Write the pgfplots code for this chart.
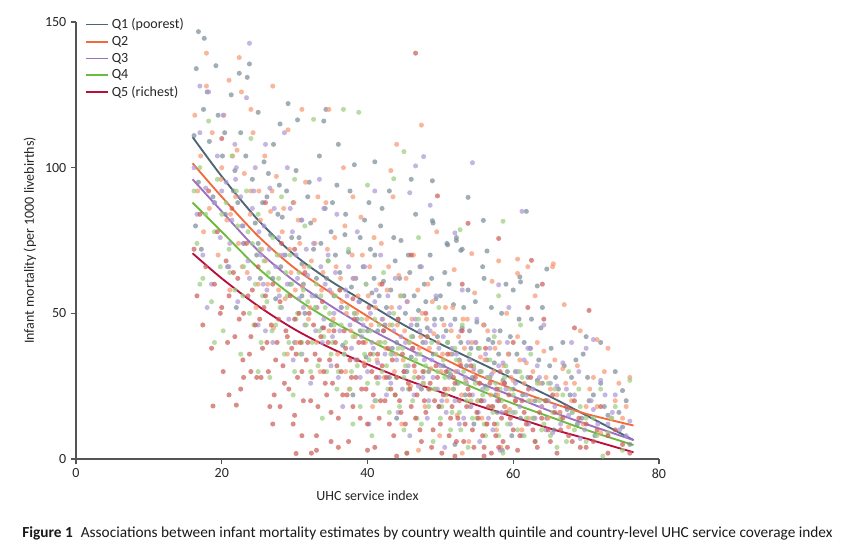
\documentclass[border=0pt]{standalone}
\usepackage{pgfplots}
\pgfplotsset{compat=1.18}
\usepackage{fontspec}
\setmainfont{Carlito}
\definecolor{q1l}{HTML}{4D6676}
\definecolor{q2l}{HTML}{F26A3B}
\definecolor{q3l}{HTML}{9C70C0}
\definecolor{q4l}{HTML}{6CBB3C}
\definecolor{q5l}{HTML}{B8103C}
\definecolor{q1p}{HTML}{7D8F9A}
\definecolor{q2p}{HTML}{F89A75}
\definecolor{q3p}{HTML}{AE98D6}
\definecolor{q4p}{HTML}{9CCF80}
\definecolor{q5p}{HTML}{CC5F5B}
\definecolor{axgray}{HTML}{555555}
\definecolor{txt}{HTML}{262626}
\begin{document}
\begin{tikzpicture}
\useasboundingbox (0,0) rectangle (633pt,410.25pt);
\begin{axis}[
  at={(57pt,66pt)}, anchor=south west,
  scale only axis, width=437.25pt, height=327.75pt,
  xmin=0, xmax=80, ymin=0, ymax=150,
  axis x line=bottom, axis y line=left,
  axis line style={-, draw=axgray, line width=0.8pt},
  tick style={draw=axgray, line width=0.8pt},
  tick align=outside, major tick length=3.75pt,
  xtick={0,20,40,60,80}, ytick={0,50,100,150},
  /pgf/number format/assume math mode=true,
  tick label style={font=\fontsize{10.5}{12}\selectfont, text=txt},
  label style={font=\fontsize{10.5}{12}\selectfont, text=txt},
  xlabel={UHC service index},
  ylabel={Infant mortality (per 1000 livebirths)},
  xlabel style={at={(axis description cs:0.5,-0.083)}, anchor=center},
  ylabel style={at={(axis description cs:-0.079,0.5)}, anchor=center},
  clip=false,
  legend style={at={(0.012,1.018)}, anchor=north west, draw=none, fill=none,
    font=\fontsize{10.5}{12}\selectfont, text=txt, row sep=0.2pt,
    inner sep=1pt},
  legend cell align=left,
  legend image code/.code={\draw[#1, line width=1.4pt, opacity=1] (0pt,0pt) -- (17pt,0pt);},
  scatter1/.style={only marks, mark=*, mark size=1.9pt, color=#1, mark options={draw opacity=0, fill=#1, fill opacity=0.72}, forget plot},
  fitline/.style={draw=#1, line width=1.4pt, smooth, no markers},
]
% Q1 scatter
\addplot[scatter1=q1p] coordinates {
(16.5,134)(16.8,146.7)(17.6,144.4)(16.2,111)(16.8,95)(17.5,120)(18,126)(18.3,109)(16.4,80)(17.2,72)(18.8,90)(19.2,135)(19.5,118)(20.1,104)(20.5,84)(20.8,66)(21.3,125)(21.8,99)(22.2,88)(22.6,112)(23,74)(23.5,131)(23.8,135.6)(22.4,132.4)(24.2,96)(24.6,81)(25,119)(25.3,62)(25.8,102)(26.2,90)(26.7,77)(27.1,108)(27.4,55)(27.9,94)(28.3,83)(28.7,70)(29.1,122)(29.4,60)(29.8,88)(30.2,99)(30.6,76)(31,67)(31.4,50)(31.8,90)(32.2,81)(32.6,72)(33,62)(33.4,104)(33.8,45)(34.2,86)(34.6,68)(35,78)(35.4,56)(35.8,94)(36.2,64)(36.6,39)(37,84)(37.4,71)(37.8,59)(38.2,101)(38.6,48)(39,76)(39.4,66)(39.8,35)(40.2,88)(40.6,57)(41,70)(41.4,44)(41.8,80)(42.2,61)(42.6,52)(43,92)(43.4,38)(43.8,68)(44.2,48)(44.6,75)(45,56)(45.4,30)(45.8,64)(46.2,42)(46.6,84)(47,51)(47.4,24)(47.8,60)(48.2,45)(48.6,70)(49,36)(49.4,55)(49.8,18)(50.2,48)(50.6,64)(51,40)(51.4,29)(51.8,53)(52.2,75)(52.6,34)(53,45)(53.4,22)(53.8,58)(54.2,38)(54.6,12)(55,47)(55.4,30)(55.8,66)(56.2,25)(56.6,41)(57,52)(57.4,33)(57.8,16)(58.2,44)(58.6,27)(59,60)(59.4,36)(59.8,8)(60.3,30)(60.8,48)(61.3,22)(61.8,85)(62.3,38)(62.8,14)(63.3,27)(63.8,45)(64.4,20)(65,32)(65.6,10)(66.2,24)(66.8,40)(67.4,17)(68,28)(68.8,12)(69.6,36)(70.4,20)(71.2,8)(72,26)(73,15)(74,30)(75,11)(76,5)(58.5,3)(52,5)(44,14)(38,22)(30,40)(22,52)(34,116)(41,102)(46,96)(36,108)(28,115)(19,88)(49,81)(51,73.5)(53,72)(56,62)(60,58)(64,52)(75,23.5)(72,40)(70,42)(34.3,120)(30.4,116.4)
(20.4,112)(21.6,92)(22.9,80)(23.3,104)(24.8,70)(25.6,88)(26.4,98)(27.7,84)(28.1,66)(28.9,92)(29.6,76)(30.9,82)(31.2,60)(32,95)(32.9,56)(33.6,74)(34.4,62)(35.2,88)(35.6,70)(36.4,52)(36.9,77)(37.6,92)(38.4,62)(38.9,54)(39.6,82)(40,44)(40.4,72)(40.9,62)(41.6,56)(42,86)(42.4,46)(43.2,58)(43.6,76)(44,40)(44.4,62)(45.2,50)(45.6,70)(46,35)(46.4,56)(46.8,46)(47.2,66)(47.6,40)(48,54)(48.4,30)(48.8,62)(49.2,48)(49.6,42)(50,56)(50.4,32)(50.8,44)(51.2,60)(51.6,36)(52,48)(52.4,26)(52.8,40)(53.2,52)(53.6,32)(54,44)(54.4,28)(54.8,54)(55.2,38)(55.6,20)(56,46)(56.4,34)(56.8,28)(57.2,40)(57.6,22)(58,36)(58.4,50)(58.8,18)(59.2,30)(59.6,42)(60,24)(60.5,36)(61,14)(61.5,40)(62,28)(62.5,48)(63,20)(63.5,34)(64,26)(64.6,14)(65.2,38)(65.8,28)(66.4,16)(67,32)(67.8,22)(68.6,34)(69.4,14)(70.2,28)(71,22)(72.5,18)(74.5,16)(75.5,20)(43,28)(39,44)(35,46)(31,56)(27,62)(25,74)
(48.9,95.5)(53.8,89.8)(48.9,81.8)(55.9,81.9)(52.2,76)(50.9,74)(52.8,71.6)(56.4,71.4)(64.6,65.2)(60.9,62.5)(63.3,59.4)(61,60.8)
};
% Q2 scatter
\addplot[scatter1=q2p] coordinates {
(16.3,118)(16.7,92)(17.1,104)(17.5,78)(17.9,128)(18.3,86)(18.7,112)(17.9,139.3)(19.5,70)(19.9,96)(20.3,118)(20.7,82)(21.1,58)(21.5,104)(21.9,90)(22.3,74)(22.7,126)(23.1,98)(23.5,64)(23.9,84)(24.3,112)(24.7,52)(25.1,92)(25.5,72)(25.9,104)(26.3,60)(26.7,85)(27.1,45)(27.5,97)(27.9,70)(28.3,78)(28.7,55)(29.1,113)(29.5,64)(29.9,88)(30.3,40)(30.7,74)(31.1,59)(31.5,95)(31.9,48)(32.3,68)(32.7,82)(33.1,52)(33.5,30)(33.9,64)(34.3,88)(34.7,44)(35.1,57)(35.5,76)(35.9,36)(36.3,62)(36.7,100)(37.1,50)(37.5,24)(37.9,70)(38.3,42)(38.7,56)(39.1,83)(39.5,33)(39.9,48)(40.3,66)(40.7,18)(41.1,52)(41.5,40)(41.9,74)(42.3,28)(42.7,58)(43.1,46)(43.5,90)(43.9,36)(44.3,63)(44.7,12)(45.1,44)(45.5,54)(45.9,25)(46.3,70)(47.4,114.6)(47.1,38)(47.5,50)(47.9,18)(48.3,60)(48.7,31)(49.1,43)(49.5,78)(49.9,8)(50.3,36)(50.7,52)(51.1,24)(51.5,44)(51.9,65)(52.3,15)(52.7,33)(53.1,48)(53.5,27)(53.9,6)(54.3,40)(54.7,57)(55.1,20)(55.5,35)(55.9,46)(56.3,12)(56.7,28)(57.1,61)(57.5,38)(57.9,22)(58.3,4)(58.7,32)(59.1,50)(59.5,17)(60,27)(60.6,42)(61.2,10)(61.8,33)(62.4,20)(63,56)(63.6,26)(64.2,37)(64.8,14)(65.4,66)(66,22)(66.8,31)(67.6,11)(68.4,26)(69.2,44)(70,18)(71,28)(72,9)(73,38)(74,20)(75,14)(76,28)(71.5,41)(67,53)(62,66)(58,68)(31,120)(27,128)(24,120)(21,130)(44,108)(38,90)(53,2)(47,3)(22.4,137.8)(34.7,120)
(20,100)(21.2,84)(22.1,106)(22.8,66)(24,92)(25.3,82)(26,68)(26.9,92)(27.8,58)(28.5,86)(29.3,72)(30.1,58)(30.5,82)(31.3,66)(32.1,52)(32.8,74)(33.2,90)(33.7,58)(34.5,72)(35.3,48)(35.7,66)(36.5,54)(36.9,80)(37.7,44)(38.1,62)(38.5,50)(39.3,70)(39.7,40)(40.1,56)(40.5,46)(40.9,76)(41.3,34)(41.7,60)(42.1,48)(42.5,38)(42.9,66)(43.3,52)(43.7,30)(44.1,46)(44.5,56)(44.9,34)(45.3,62)(45.7,40)(46.1,48)(46.5,30)(46.9,58)(47.3,42)(47.7,26)(48.1,48)(48.5,38)(48.9,54)(49.3,24)(49.7,40)(50.1,30)(50.5,46)(50.9,20)(51.3,36)(51.7,52)(52.1,30)(52.5,42)(52.9,22)(53.3,38)(53.7,48)(54.1,18)(54.5,30)(54.9,40)(55.3,26)(55.7,14)(56.1,34)(56.5,44)(56.9,22)(57.3,30)(57.7,10)(58.1,40)(58.5,26)(58.9,18)(59.3,36)(59.7,28)(60.3,20)(60.9,34)(61.5,26)(62.1,14)(62.7,30)(63.3,40)(63.9,18)(64.5,28)(65.1,24)(65.7,34)(66.4,16)(67.2,26)(68,20)(68.8,32)(69.6,12)(70.5,24)(71.5,18)(72.5,30)(73.5,14)(74.5,26)(75.5,18)(29,36)(33,40)(37,30)(25,60)
(43.2,99)(54.3,70.5)(60.6,68.6)(65.5,67)(60.6,63.7)
};
% Q3 scatter
\addplot[scatter1=q3p] coordinates {
(16.2,100)(16.6,84)(17,112)(17.4,70)(17.8,93)(18.2,126)(18.6,60)(19,88)(19.4,104)(19.8,76)(20.2,118)(20.6,95)(21,66)(21.4,82)(21.8,108)(22.2,54)(22.6,90)(23,74)(23.4,124)(23.8,62)(24.2,86)(24.6,100)(25,46)(25.4,70)(25.8,80)(26.2,58)(26.6,93)(27,40)(27.4,66)(27.8,76)(28.2,52)(28.6,112)(29,60)(29.4,86)(29.8,34)(30.2,70)(30.6,55)(31,82)(31.4,46)(31.8,63)(32.2,26)(32.6,74)(33,52)(33.4,96)(33.8,40)(34.2,60)(34.6,70)(35,32)(35.4,50)(35.8,84)(36.2,44)(36.6,18)(37,58)(37.4,66)(37.8,38)(38.2,50)(38.6,78)(39,28)(39.4,46)(39.8,60)(40.2,12)(40.6,40)(41,54)(41.4,33)(41.8,70)(42.2,44)(42.6,22)(43,50)(43.4,36)(43.8,62)(44.2,16)(44.6,42)(45,30)(45.4,54)(45.8,8)(46.2,38)(46.6,48)(47,25)(47.4,66)(47.8,34)(48.2,14)(48.6,44)(49,28)(49.4,56)(49.8,38)(50.2,20)(50.6,4)(51,30)(51.4,46)(51.8,24)(52.2,36)(52.6,12)(53,58)(53.4,28)(53.8,40)(54.2,18)(54.6,31)(55,48)(55.4,6)(55.8,24)(56.2,36)(56.6,14)(57,29)(57.4,44)(57.8,20)(58.2,3)(58.6,33)(59,24)(59.4,52)(60,16)(60.6,30)(61.2,8)(61.8,22)(62.4,38)(63,14)(63.6,28)(64.2,46)(64.8,20)(65.4,9)(66,25)(66.8,33)(67.6,15)(68.4,22)(69.2,7)(70,38)(71,17)(72,27)(73,12)(74,22)(75.5,8)(76,13)(71,41)(68,40)(62,38)(22,100)(29,100)(26,108)(34,86)(41,92)(18,52)(17,128)(23.8,142.7)
(20,92)(21.1,74)(21.9,96)(22.8,80)(23.6,68)(24.4,92)(25.1,78)(25.7,60)(26.5,72)(27.2,86)(27.9,56)(28.4,70)(29.2,48)(29.7,78)(30.4,62)(31.2,52)(31.6,72)(32.4,56)(32.9,44)(33.6,66)(34,48)(34.8,58)(35.2,42)(35.6,64)(36.4,52)(36.8,36)(37.2,56)(37.6,46)(38,62)(38.4,34)(38.8,54)(39.2,42)(39.6,66)(40,30)(40.4,50)(40.8,38)(41.2,58)(41.6,28)(42,48)(42.4,36)(42.8,56)(43.2,26)(43.6,44)(44,34)(44.4,52)(44.8,24)(45.2,40)(45.6,32)(46,46)(46.4,22)(46.8,36)(47.2,44)(47.6,28)(48,40)(48.4,20)(48.8,34)(49.2,46)(49.6,24)(50,32)(50.4,42)(50.8,16)(51.2,28)(51.6,38)(52,20)(52.4,30)(52.8,44)(53.2,14)(53.6,26)(54,34)(54.4,22)(54.8,40)(55.2,16)(55.6,30)(56,20)(56.4,28)(56.8,38)(57.2,10)(57.6,24)(58,32)(58.4,16)(58.8,26)(59.2,40)(59.6,12)(60.3,26)(60.9,18)(61.5,34)(62.1,12)(62.7,24)(63.3,32)(63.9,18)(64.5,10)(65.1,26)(65.7,18)(66.5,12)(67.3,24)(68.1,16)(69,30)(69.8,10)(70.7,20)(71.6,12)(72.6,22)(73.6,16)(74.6,10)(41,20)(36,28)(31,36)(26,44)
(47.7,103.8)(46.6,100.6)(54.4,101.7)(45.8,91.4)(48.6,87.1)(61.2,85)(52,77.6)(58,59.8)
};
% Q4 scatter
\addplot[scatter1=q4p] coordinates {
(16.2,92)(16.6,74)(17,100)(17.4,62)(17.8,84)(18.2,116)(18.6,54)(19,78)(19.4,96)(19.8,66)(20.2,44)(20.6,88)(21,72)(21.4,104)(21.8,58)(22.2,80)(22.6,36)(23,66)(23.4,92)(23.8,50)(24.2,74)(24.6,60)(25,84)(25.4,40)(25.8,68)(26.2,54)(26.6,28)(27,76)(27.4,46)(27.8,62)(28.2,90)(28.6,36)(29,56)(29.4,70)(29.8,22)(30.2,48)(30.6,64)(31,40)(31.4,80)(31.8,54)(32.2,30)(32.6,116.6)(33,60)(33.4,44)(33.8,14)(34.2,52)(34.6,68)(35,36)(35.4,46)(35.8,24)(36.2,58)(36.7,120)(37,40)(37.4,72)(37.8,30)(38.2,50)(38.8,119)(39,18)(39.4,44)(39.8,60)(40.2,34)(40.6,8)(41,48)(41.4,26)(41.8,40)(42.2,64)(42.6,32)(43,16)(43.4,46)(43.8,22)(44.2,38)(44.6,56)(45,28)(45.4,2)(45.8,40)(46.2,20)(46.6,34)(47,48)(47.4,12)(47.8,30)(48.2,42)(48.6,24)(49,6)(49.4,36)(49.8,52)(50.2,18)(50.6,28)(51,40)(51.4,10)(51.8,24)(52.2,34)(52.6,16)(53,46)(53.4,26)(53.8,4)(54.2,20)(54.6,32)(55,14)(55.4,38)(55.8,22)(56.2,8)(56.6,28)(57,18)(57.4,42)(57.8,12)(58.2,24)(58.6,2)(59,32)(59.4,16)(60,22)(60.6,10)(61.2,28)(61.8,14)(62.4,36)(63,6)(63.6,20)(64.2,12)(64.8,26)(65.4,16)(66,4)(66.8,22)(67.6,30)(68.4,10)(69.2,18)(70,6)(71,14)(72,24)(73,9)(74,18)(75,3)(76,27)(72.3,1)(61,46)(58,56)(47,76)(40,94)(30,96)(24,110)(19,40)(17,60)
(20,84)(21.1,64)(22,92)(22.9,56)(23.6,78)(24.4,46)(25.2,72)(25.6,56)(26.4,64)(26.9,44)(27.6,70)(28,52)(28.8,64)(29.2,40)(29.6,60)(30.4,50)(30.8,36)(31.2,58)(31.6,46)(32,66)(32.4,40)(32.8,52)(33.2,32)(33.6,56)(34,42)(34.4,30)(34.8,50)(35.2,40)(35.6,56)(36,30)(36.4,46)(36.8,36)(37.2,52)(37.6,24)(38,42)(38.6,32)(39.2,48)(39.6,36)(40,26)(40.4,44)(40.8,36)(41.2,20)(41.6,46)(42,30)(42.4,40)(42.8,24)(43.2,36)(43.6,50)(44,28)(44.4,18)(44.8,38)(45.2,32)(45.6,24)(46,42)(46.4,28)(46.8,14)(47.2,36)(47.6,26)(48,32)(48.4,18)(48.8,40)(49.2,24)(49.6,30)(50,14)(50.4,34)(50.8,22)(51.2,30)(51.6,16)(52,38)(52.4,26)(52.8,10)(53.2,30)(53.6,20)(54,36)(54.4,14)(54.8,26)(55.2,20)(55.6,30)(56,12)(56.4,24)(56.8,34)(57.2,16)(57.6,26)(58,8)(58.4,20)(58.8,28)(59.2,12)(59.6,24)(60.3,16)(60.9,30)(61.5,8)(62.1,20)(62.7,14)(63.3,26)(63.9,10)(64.5,20)(65.1,8)(65.7,24)(66.5,14)(67.3,6)(68.1,16)(69,24)(70,14)(71.5,8)(73.5,14)(45,10)(38,12)(30,30)(25,30)
(45,105.5)(43.6,96.2)(58.6,81.6)(52.7,78.7)
};
% Q5 scatter
\addplot[scatter1=q5p] coordinates {
(16.2,72)(16.6,56)(17,84)(17.4,46)(17.8,66)(18.2,92)(18.6,38)(19,60)(19.4,78)(19.8,50)(20.2,30)(20.6,68)(21,56)(21.4,86)(21.8,42)(22.2,62)(22.6,24)(23,50)(23.4,74)(23.8,36)(24.2,58)(24.6,46)(25,66)(25.4,28)(25.8,52)(26.2,40)(26.6,18)(27,60)(27.4,34)(27.8,48)(28.2,74)(28.6,26)(29,42)(29.4,56)(29.8,12)(30.2,36)(30.6,50)(31,30)(31.4,64)(31.8,40)(32.2,20)(32.6,46)(33,8)(33.4,34)(33.8,54)(34.2,26)(34.6,40)(35,16)(35.4,44)(35.8,32)(36.2,58)(36.6,22)(37,38)(37.4,6)(37.8,28)(38.2,48)(38.6,34)(39,14)(39.4,40)(39.8,24)(40.2,52)(40.6,30)(41,4)(41.4,36)(41.8,20)(42.2,44)(42.6,28)(43,12)(43.4,34)(43.8,22)(44.2,48)(44.6,16)(45,30)(45.4,2)(45.8,24)(46.2,38)(46.6,139.3)(46.6,14)(47,28)(47.4,6)(47.8,20)(48.2,42)(48.6,26)(49,10)(49.4,32)(49.8,18)(50.2,2)(50.6,24)(51,36)(51.4,14)(51.8,28)(52.2,6)(52.6,20)(53,44)(53.4,12)(53.8,24)(54.2,32)(54.6,4)(55,16)(55.4,26)(55.8,8)(56.2,38)(56.6,18)(57,2)(57.4,12)(57.8,24)(58.2,30)(58.6,6)(59,16)(59.4,22)(60,10)(60.6,3)(61.2,20)(61.8,12)(62.4,28)(63,6)(63.6,16)(64.2,48)(64.8,10)(65.4,22)(66,2)(66.8,14)(67.6,8)(68.4,20)(69.2,4)(70,12)(71,6)(72,18)(73,2)(74,10)(75,5)(76,2)(58,4)(56,1)(52,1)(44,1)(40,3)(33,3)(30,15)(28,18)(21,22)(24,30)(36,4)(34,45)(38,55)(42,60)(48,50)(53,60)(60,40)(20,110)(26,88)(30,72)(46,70)(62,52)(64,60)(70.4,51)(68.4,45)(18.8,18.2)(22,18.5)(30.2,1.9)(32.3,2)
(20,52)(20.8,40)(21.6,64)(22.4,48)(22.9,34)(23.6,56)(24,42)(24.8,28)(25.2,48)(25.6,38)(26,56)(26.4,30)(26.8,46)(27.2,22)(27.6,40)(28,54)(28.4,32)(28.8,44)(29.2,24)(29.6,38)(30,48)(30.4,28)(30.8,40)(31.2,20)(31.6,34)(32,50)(32.4,28)(32.8,36)(33.2,18)(33.6,42)(34,30)(34.4,22)(34.8,34)(35.2,26)(35.6,40)(36,14)(36.4,30)(36.8,44)(37.2,22)(37.6,34)(38,18)(38.4,28)(38.8,40)(39.2,24)(39.6,32)(40,12)(40.4,36)(40.8,22)(41.2,28)(41.6,14)(42,32)(42.4,20)(42.8,38)(43.2,24)(43.6,8)(44,28)(44.4,20)(44.8,36)(45.2,12)(45.6,26)(46,18)(46.4,32)(46.8,22)(47.2,10)(47.6,30)(48,16)(48.4,24)(48.8,4)(49.2,20)(49.6,28)(50,12)(50.4,22)(50.8,30)(51.2,8)(51.6,18)(52,26)(52.4,14)(52.8,32)(53.2,6)(53.6,18)(54,22)(54.4,10)(54.8,28)(55.2,14)(55.6,20)(56,4)(56.4,12)(56.8,26)(57.2,18)(57.6,8)(58,20)(58.4,14)(58.8,26)(59.2,4)(59.6,14)(60.3,20)(60.9,8)(61.5,16)(62.1,24)(62.7,10)(63.3,4)(63.9,14)(64.5,20)(65.1,6)(65.7,16)(66.5,10)(67.3,18)(68.1,6)(69,14)(70,4)(71.5,10)(73,8)(35,6)(31,8)(27,12)(23,28)
(49.6,90.3)(53.8,80.9)(58,75.7)(62.5,68.2)
};
% fitted lines
\addplot[fitline=q1l] coordinates {(16,110.5)(20,97)(25,82)(30,70)(35,61)(40,53.5)(45,46)(50,39.5)(55,33.5)(60,27.5)(65,21.5)(70,15)(76.5,6.5)};
\addlegendentry{Q1 (poorest)}
\addplot[fitline=q2l] coordinates {(16,101.5)(20,90)(25,76.5)(30,65.5)(35,57)(40,49)(45,41.5)(50,35)(55,29)(60,24)(65,19.5)(70,15.5)(76.5,11.5)};
\addlegendentry{Q2}
\addplot[fitline=q3l] coordinates {(16,96)(20,85)(25,71.5)(30,61)(35,52.5)(40,45)(45,38.5)(50,32.5)(55,26.5)(60,21.5)(65,16.5)(70,12)(76.5,6.5)};
\addlegendentry{Q3}
\addplot[fitline=q4l] coordinates {(16,88)(20,78)(25,65.5)(30,55.5)(35,47.5)(40,41)(45,35)(50,29.5)(55,24)(60,19)(65,14.5)(70,10)(76.5,4.8)};
\addlegendentry{Q4}
\addplot[fitline=q5l] coordinates {(16,70.6)(20,62)(25,52.5)(30,44.5)(35,38)(40,32.5)(45,27.5)(50,23)(55,18.5)(60,14.5)(65,10.5)(70,7)(76.5,2.3)};
\addlegendentry{Q5 (richest)}
\end{axis}
\node[anchor=west, font=\fontsize{11.5}{13}\selectfont, text=black!90, inner sep=0pt] at (16.5pt,10.5pt) {\textbf{Figure 1}\hspace{0.3em} Associations between infant mortality estimates by country wealth quintile and country-level UHC service coverage index};
\end{tikzpicture}
\end{document}
